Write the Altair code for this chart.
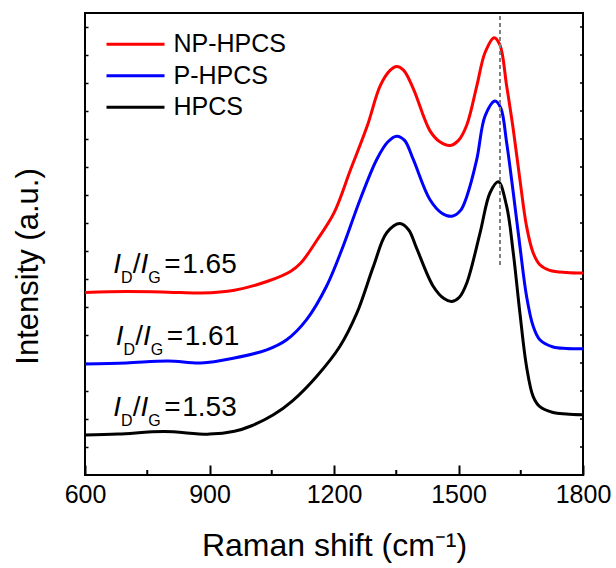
import altair as alt
import pandas as pd

# ---------------- data ----------------
SERIES = ["NP-HPCS", "P-HPCS", "HPCS"]
COLORS = ["#ff0000", "#0000ff", "#000000"]

RED_X = [600, 700, 800, 880, 960, 1040, 1095, 1120, 1160, 1200, 1240, 1280, 1311, 1335, 1351,
         1368, 1391, 1431, 1455, 1480, 1500, 1520, 1544, 1564, 1586, 1600, 1616, 1632, 1648,
         1664, 1680, 1696, 1720, 1760, 1800]
RED_Y = [6.52, 6.55, 6.53, 6.50, 6.60, 6.92, 7.27, 7.57, 8.41, 9.36, 10.91, 12.46, 13.89, 14.45, 14.59,
         14.45, 13.8, 12.3, 11.9, 11.77, 11.95, 12.5, 13.89, 15.09, 15.62, 15.35, 13.9, 12.34, 10.55,
         8.88, 7.93, 7.51, 7.31, 7.23, 7.21]

BLUE_X = [600, 700, 800, 880, 957, 1038, 1086, 1134, 1182, 1222, 1263, 1303, 1330, 1351, 1370,
          1391, 1431, 1460, 1484, 1505, 1520, 1544, 1564, 1588, 1602, 1616, 1632, 1648, 1664,
          1680, 1696, 1728, 1760, 1800]
BLUE_Y = [3.96, 4.00, 4.07, 4.00, 4.17, 4.47, 4.83, 5.55, 6.74, 8.17, 9.84, 11.27, 11.9, 12.10, 11.95,
          11.27, 9.84, 9.35, 9.24, 9.45, 9.95, 11.27, 12.82, 13.36, 13.1, 11.87, 10.08, 8.17, 6.38,
          5.31, 4.83, 4.57, 4.52, 4.51]

BLACK_X = [600, 680, 790, 900, 960, 1000, 1054, 1100, 1158, 1214, 1255, 1295, 1327, 1359, 1380,
           1399, 1439, 1465, 1484, 1502, 1520, 1552, 1576, 1596, 1616, 1632, 1648, 1664, 1680,
           1696, 1728, 1760, 1800]
BLACK_Y = [1.43, 1.46, 1.55, 1.46, 1.56, 1.75, 2.15, 2.65, 3.52, 4.59, 5.78, 7.45, 8.65, 8.98, 8.75,
           8.1, 6.74, 6.3, 6.2, 6.35, 6.86, 8.65, 10.08, 10.47, 9.6, 7.93, 5.78, 3.87, 2.80,
           2.44, 2.23, 2.18, 2.15]

# I_D/I_G annotations
ANN_X = [668, 674, 668]
ANN_Y = [7.22, 4.65, 2.11]
ANN_VAL = ["1.65", "1.61", "1.53"]

# axis ticks
X_TICKS = [600, 900, 1200, 1500, 1800]
X_MINOR = [750, 1050, 1350, 1650]
Y_TICKS = list(range(1, 17))
Y_DOMAIN = [0, 16.5]

# G-band reference line
REF_X = [1600]
REF_Y = [7.5]
REF_Y2 = [16.5]

# ---------------- tables ----------------
rows = []
for name, xs, ys in zip(SERIES, [RED_X, BLUE_X, BLACK_X], [RED_Y, BLUE_Y, BLACK_Y]):
    for x, y in zip(xs, ys):
        rows.append({"series": name, "shift": x, "intensity": y})
df = pd.DataFrame(rows)
ann = pd.DataFrame({"shift": ANN_X, "intensity": ANN_Y, "val": ANN_VAL})
minor = pd.DataFrame({"shift": X_MINOR})
yt = pd.DataFrame({"intensity": Y_TICKS})
ref = pd.DataFrame({"shift": REF_X, "intensity": REF_Y, "intensity2": REF_Y2})

W, H = 498, 462
FONT = "Liberation Sans"

xscale = alt.Scale(domain=[600, 1800], nice=False, zero=False)
yscale = alt.Scale(domain=Y_DOMAIN, nice=False, zero=False)

xaxis = alt.Axis(values=X_TICKS, format="d", title="Raman shift (cm⁻¹)", offset=-10, tickSize=10,
                 tickWidth=2, tickColor="black", domain=False, grid=False, labelFontSize=25,
                 labelPadding=7, labelColor="black", labelFont=FONT, titleFont=FONT, titleFontSize=32,
                 titleFontWeight="normal", titleColor="black", titleBaseline="alphabetic", titleY=90,
                 labelFlush=False, labelOverlap=False)
yaxis = alt.Axis(values=Y_TICKS, labels=False, offset=-3, tickSize=3, tickWidth=1.5,
                 tickColor="black", domain=False, grid=False, title="Intensity (a.u.)",
                 titleFont=FONT, titleFontSize=31, titleFontWeight="normal", titleColor="black",
                 titlePadding=40, titleY=253)

X_ENC = alt.X("shift:Q", scale=xscale, axis=xaxis)
Y_ENC = alt.Y("intensity:Q", scale=yscale, axis=yaxis)

lines = alt.Chart(df).mark_line(strokeWidth=3, interpolate="catmull-rom").encode(
    x=X_ENC,
    y=Y_ENC,
    color=alt.Color("series:N", scale=alt.Scale(domain=SERIES, range=COLORS),
                    legend=alt.Legend(orient="none", legendX=34.5, legendY=15.2, title=None,
                                      symbolType="M-2,0H2", symbolSize=841, symbolStrokeWidth=3,
                                      labelFontSize=25, labelFont=FONT, labelColor="black",
                                      labelOffset=22, rowPadding=2.5, padding=0)),
    order=alt.Order("shift:Q"),
)

refline = alt.Chart(ref).mark_rule(color="#808080", strokeWidth=2, strokeDash=[4, 3]).encode(
    x=X_ENC, y=Y_ENC, y2="intensity2:Q"
)

minor_ticks = alt.Chart(minor).mark_rule(color="black", strokeWidth=2).encode(
    x=X_ENC, y=alt.value(H - 5), y2=alt.value(H)
)
right_ticks = alt.Chart(yt).mark_rule(color="black", strokeWidth=1.5).encode(
    y=Y_ENC, x=alt.value(W - 3), x2=alt.value(W)
)

base = alt.Chart(ann).encode(x=X_ENC, y=Y_ENC)
tstyle = dict(align="left", baseline="alphabetic", font=FONT, color="black")
ann_layers = [
    base.mark_text(text="I", fontStyle="italic", fontSize=28, dx=0, **tstyle),
    base.mark_text(text="D", fontSize=16, dx=7.8, dy=10, **tstyle),
    base.mark_text(text="/", fontSize=28, dx=19.5, **tstyle),
    base.mark_text(text="I", fontStyle="italic", fontSize=28, dx=27.3, **tstyle),
    base.mark_text(text="G", fontSize=16, dx=35.1, dy=10, **tstyle),
    base.mark_text(text="=", fontSize=28, dx=51, **tstyle),
    base.mark_text(fontSize=28, dx=69, **tstyle).encode(text="val:N"),
]

chart = alt.layer(lines, refline, minor_ticks, right_ticks, *ann_layers).properties(
    width=W, height=H,
    autosize=alt.AutoSizeParams(type="none"),
    padding={"left": 85, "top": 13, "right": 33, "bottom": 93},
).configure(font=FONT).configure_view(stroke="black", strokeWidth=2)

chart.save("out.html", embed_options={"renderer": "svg", "actions": False})
